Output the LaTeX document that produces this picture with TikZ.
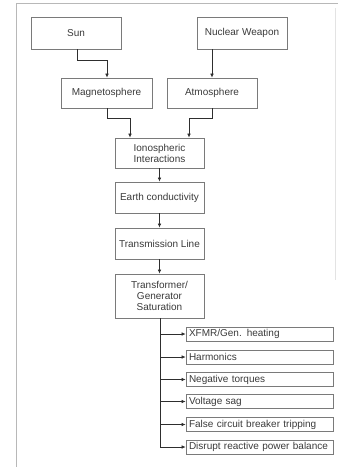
\documentclass[tikz,border=0pt]{standalone}
\usepackage{fontspec}
\setmainfont{Liberation Sans}
\usetikzlibrary{arrows.meta}
\definecolor{boxc}{HTML}{7A7A7A}
\definecolor{txtc}{HTML}{3A3A3A}
\definecolor{linec}{HTML}{2E2E2E}
\definecolor{framec}{HTML}{B8B8B8}
\begin{document}
\begin{tikzpicture}[x=1pt,y=-1pt,
  every node/.style={font=\fontsize{10}{11}\selectfont, text=txtc},
  blk/.style={draw=boxc, line width=0.8pt, inner sep=1pt, align=center},
  outbox/.style={draw=boxc, line width=0.8pt, minimum width=147pt, minimum height=14pt, text width=141pt, inner sep=2pt, align=left},
  arr/.style={draw=linec, line width=0.6pt, -{Latex[length=4pt,width=3.6pt]}}]
\useasboundingbox (0,0) rectangle (338,467);
% frame
\draw[framec, line width=1pt] (16,467) -- (16,3.5) -- (338,3.5);
\draw[framec!40, line width=0.6pt] (335,8) -- (335,280);
% main boxes
\node[blk, minimum width=90pt, minimum height=32pt] (sun) at (76,33) {Sun};
\node[blk, minimum width=90pt, minimum height=32pt] (nuc) at (242,33) {Nuclear Weapon};
\node[blk, minimum width=91pt, minimum height=30pt] (mag) at (106.5,93) {Magnetosphere};
\node[blk, minimum width=90pt, minimum height=30pt] (atm) at (212,93) {Atmosphere};
\node[blk, minimum width=89pt, minimum height=30pt] (ion) at (159.5,153) {Ionospheric\\Interactions};
\node[blk, minimum width=89pt, minimum height=31pt] (ear) at (159.5,197.5) {Earth conductivity};
\node[blk, minimum width=89pt, minimum height=31pt] (trl) at (159.5,243.5) {Transmission Line};
\node[blk, minimum width=89pt, minimum height=44pt] (tfm) at (159.5,296) {Transformer/\\Generator\\Saturation};
% output boxes
\node[outbox] (o1) at (259.5,334) {XFMR/Gen. heating};
\node[outbox] (o2) at (259.5,357) {Harmonics};
\node[outbox] (o3) at (259.5,379.5) {Negative torques};
\node[outbox] (o4) at (259.5,401.5) {Voltage sag};
\node[outbox] (o5) at (259.5,424.5) {False circuit breaker tripping};
\node[outbox] (o6) at (259.5,447) {Disrupt reactive power balance};
% connectors top
\coordinate (s1) at (77,60);
\coordinate (s2) at (107,60);
\draw[arr] (sun.south -| s1) -- (s1) -- (s2) -- (mag.north -| s2);
\coordinate (n1) at (212,60);
\draw[arr] (nuc.south -| n1) -- (atm.north -| n1);
\coordinate (m1) at (107,118.5);
\coordinate (m2) at (130,118.5);
\draw[arr] (mag.south -| m1) -- (m1) -- (m2) -- (ion.north -| m2);
\coordinate (a1) at (212,118.5);
\coordinate (a2) at (189,118.5);
\draw[arr] (atm.south -| a1) -- (a1) -- (a2) -- (ion.north -| a2);
\draw[arr] (ion) -- (ear);
\draw[arr] (ear) -- (trl);
\draw[arr] (trl) -- (tfm);
% trunk
\coordinate (tk) at (160,318);
\draw[draw=linec, line width=0.6pt] (tfm.south -| tk) -- (tk |- o6.west);
\foreach \o in {o1,o2,o3,o4,o5,o6}{
  \draw[arr] (tk |- \o.west) -- (\o.west);
}
\end{tikzpicture}
\end{document}
